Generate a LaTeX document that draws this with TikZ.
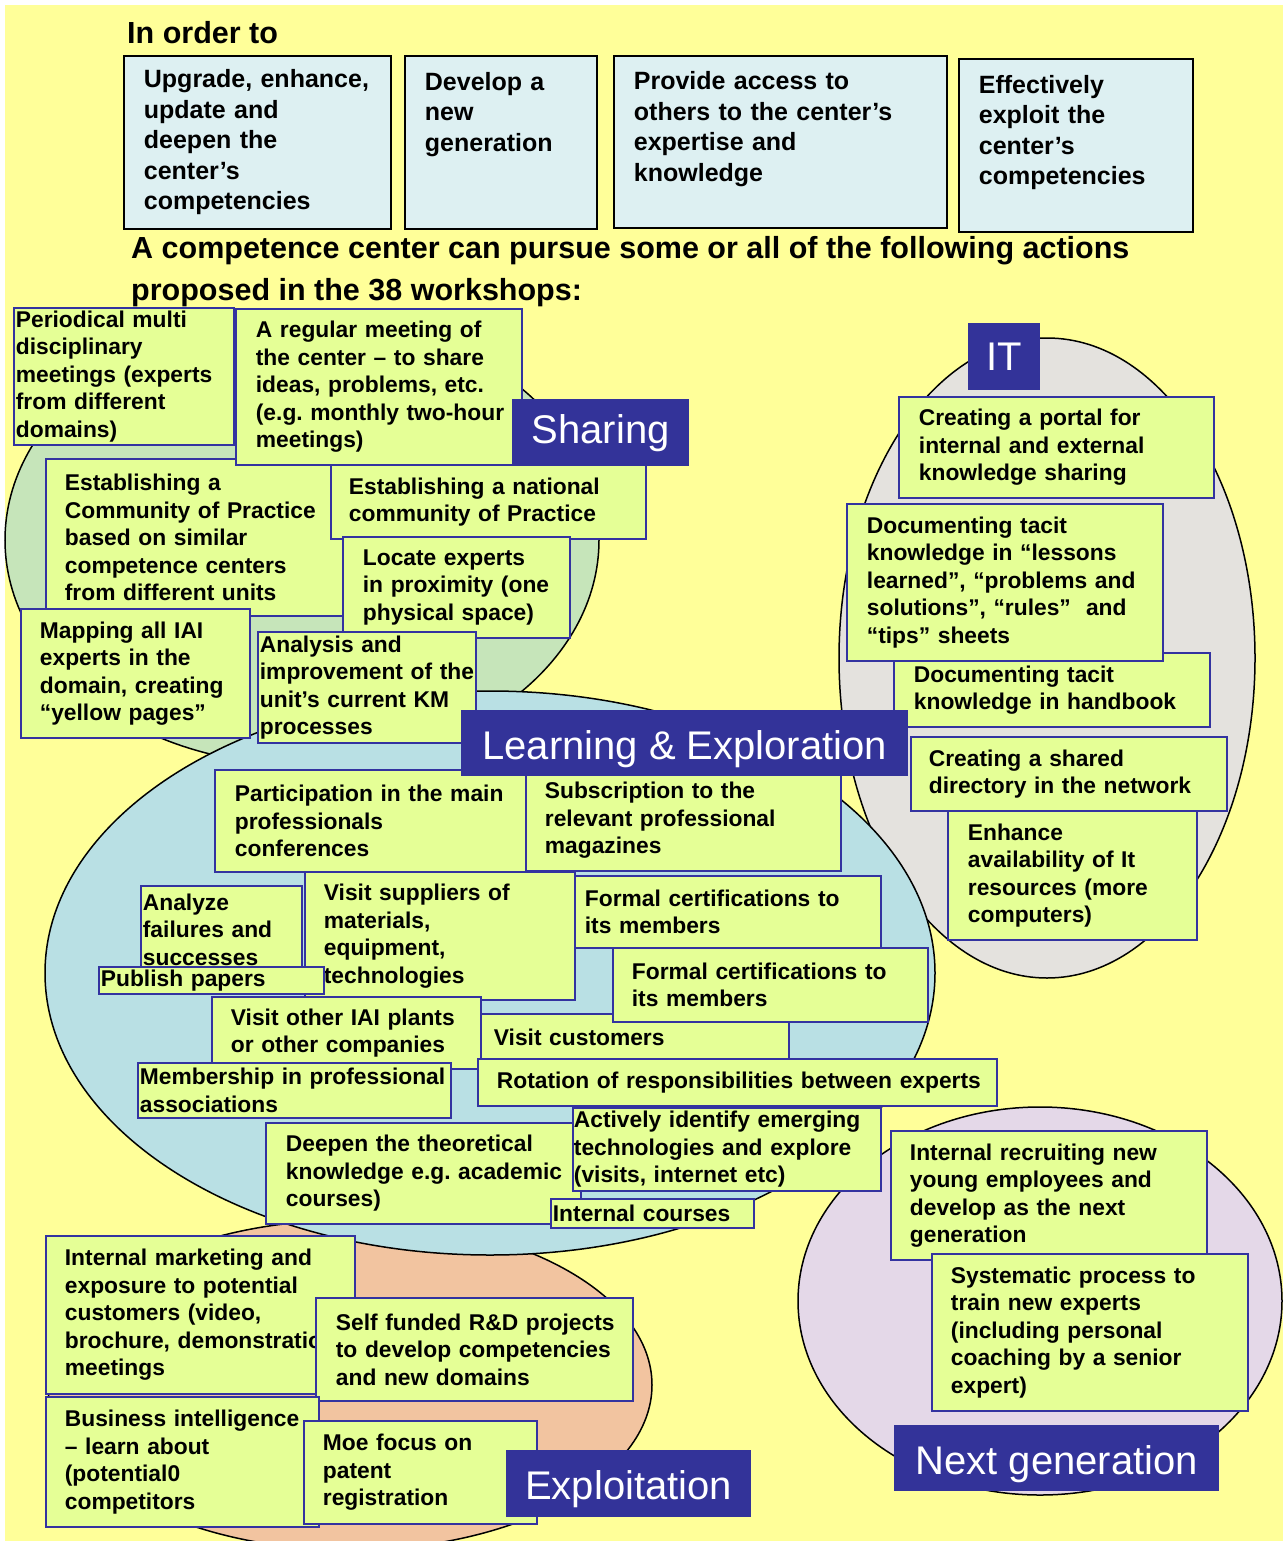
\documentclass[tikz,border=0pt]{standalone}
\usepackage{fontspec}
\setmainfont{Liberation Sans}
\frenchspacing
\definecolor{bgyellow}{RGB}{255,255,153}
\definecolor{actfill}{RGB}{229,255,150}
\definecolor{edgeblue}{RGB}{51,51,160}
\definecolor{tagblue}{RGB}{51,51,153}
\definecolor{goalfill}{RGB}{221,240,242}
\definecolor{sharegreen}{RGB}{198,229,186}
\definecolor{learnblue}{RGB}{185,224,228}
\definecolor{itgrey}{RGB}{228,226,222}
\definecolor{nextlilac}{RGB}{228,216,232}
\definecolor{exploitpeach}{RGB}{242,196,160}
\tikzset{
  zone/.style={draw=black, line width=1.5pt},
  heading/.style={anchor=base west, inner sep=0pt, align=left,
    font=\bfseries\fontsize{30.5}{42}\selectfont},
  actbox/.style={draw=edgeblue, fill=actfill, line width=1.8pt, anchor=north west,
    inner sep=0pt, align=left, font=\bfseries\fontsize{22.8}{27.5}\selectfont},
  goalbox/.style={draw=black, fill=goalfill, line width=1.8pt, anchor=north west,
    inner sep=0pt, align=left, font=\bfseries\fontsize{25}{30.5}\selectfont},
  zonetag/.style={fill=tagblue, text=white, anchor=north west, inner sep=0pt,
    font=\fontsize{40}{48}\selectfont},
  lowtag/.style={text height=34pt, text depth=2pt},
  lpad/.style={execute at begin node={\leftskip=#1pt\rightskip=-40pt plus 1fil}},
}
\begin{document}
\begin{tikzpicture}[x=1pt,y=-1pt]
    \useasboundingbox (0,0) rectangle (1283,1541);
    \fill[white] (0,0) rectangle (1283,1541);
    \fill[bgyellow] (5,5) rectangle (1283,1541);
    %% goals
    \node[heading] (inorder) at (127,44) {In order to};
    \node[goalbox, lpad=20, text width=267pt, minimum height=173pt] (goal1) at (123,55)
        {Upgrade, enhance,\\update and\\deepen the\\center’s\\competencies};
    \node[goalbox, lpad=20, text width=192pt, minimum height=173pt] (goal2) at (404,55)
        {Develop a\\new\\generation\\ \mbox{}\\ \mbox{}};
    \node[goalbox, lpad=20, text width=333pt, minimum height=172pt] (goal3) at (613,55)
        {Provide access to\\others to the center’s\\expertise and\\knowledge\\ \mbox{}};
    \node[goalbox, lpad=20, text width=234pt, minimum height=173pt] (goal4) at (958,58)
        {Effectively\\exploit the\\center’s\\competencies\\ \mbox{}};
    \node[heading] (pursue) at (131,300)
        {A competence center can pursue some or all of the following actions\\proposed in the 38 workshops:};
    %% zones
    \draw[zone, fill=sharegreen] (302,540) ellipse [x radius=297, y radius=225];
    \draw[zone, fill=itgrey] (1047,658) ellipse [x radius=208, y radius=320];
    \draw[zone, fill=nextlilac] (1040,1301) ellipse [x radius=242, y radius=194];
    \draw[zone, fill=exploitpeach] (350,1385) ellipse [x radius=302, y radius=165];
    \draw[zone, fill=learnblue] (490,973) ellipse [x radius=445, y radius=282];
    %% sharing
    \node[actbox, lpad=2, text width=220pt, minimum height=137pt] (share1) at (13,307)
        {Periodical multi\\disciplinary\\meetings (experts\\from different\\domains)};
    \node[actbox, lpad=19, text width=300pt, minimum height=157pt] (share3) at (45,458)
        {Establishing a\\Community of Practice\\based on similar\\competence centers\\from different units};
    \node[actbox, lpad=20, text width=286pt, minimum height=156pt] (share2) at (235,308)
        {A regular meeting of\\the center – to share\\ideas, problems, etc.\\(e.g. monthly two-hour\\meetings)};
    \node[actbox, lpad=18, text width=315pt, minimum height=74pt] (share4) at (330,464)
        {Establishing a national\\community of Practice};
    \node[actbox, lpad=20, text width=227pt, minimum height=101pt] (share5) at (342,536)
        {Locate experts\\in proximity (one\\physical space)};
    \node[actbox, lpad=19, text width=229pt, minimum height=129pt] (share6) at (20,608)
        {Mapping all IAI\\experts in the\\domain, creating\\“yellow pages”};
    \node[actbox, lpad=2, text width=218pt, minimum height=111pt] (share7) at (257,631)
        {Analysis and\\improvement of the\\unit’s current KM\\processes};
    %% IT
    \node[actbox, lpad=20, text width=315pt, minimum height=101pt] (it1) at (898,396)
        {Creating a portal for\\internal and external\\knowledge sharing};
    \node[actbox, lpad=20, text width=316pt, minimum height=74pt] (it3) at (893,652)
        {Documenting tacit\\knowledge in handbook};
    \node[actbox, lpad=20, text width=316pt, minimum height=157pt] (it2) at (846,503)
        {Documenting tacit\\knowledge in “lessons\\learned”, “problems and\\solutions”, “rules”~ and\\“tips” sheets};
    \node[actbox, lpad=18, text width=316pt, minimum height=74pt] (it4) at (910,736)
        {Creating a shared\\directory in the network};
    \node[actbox, lpad=20, text width=249pt, minimum height=129pt] (it5) at (947,810)
        {Enhance\\availability of It\\resources (more\\computers)};
    %% learning
    \node[actbox, lpad=20, text width=312pt, minimum height=102pt] (learn1) at (214,769)
        {Participation in the main\\professionals\\conferences};
    \node[actbox, lpad=19, text width=315pt, minimum height=101pt] (learn2) at (525,769)
        {Subscription to the\\relevant professional\\magazines};
    \node[actbox, lpad=2, text width=161pt, minimum height=87pt] (learn3) at (140,885)
        {Analyze\\failures and\\successes};
    \node[actbox, lpad=19, text width=270pt, minimum height=128pt] (learn4) at (304,871)
        {Visit suppliers of\\materials,\\equipment,\\technologies};
    \node[actbox, lpad=2, text width=225pt, minimum height=27pt] (learn5) at (98,966)
        {Publish papers};
    \node[actbox, lpad=19, text width=269pt, minimum height=72pt] (learn8) at (211,996)
        {Visit other IAI plants\\or other companies};
    \node[actbox, lpad=13, text width=308pt, minimum height=46pt] (learn9) at (480,1013)
        {Visit customers};
    \node[actbox, lpad=10, text width=306pt, minimum height=72pt] (learn6) at (574,875)
        {Formal certifications to\\its members};
    \node[actbox, lpad=19, text width=315pt, minimum height=74pt] (learn7) at (612,947)
        {Formal certifications to\\its members};
    \node[actbox, lpad=2, text width=313pt, minimum height=55pt] (learn10) at (137,1062)
        {Membership in professional\\associations};
    \node[actbox, lpad=19, text width=519pt, minimum height=47pt] (learn11) at (477,1058)
        {Rotation of responsibilities between experts};
    \node[actbox, lpad=20, text width=315pt, minimum height=101pt] (learn12) at (265,1122)
        {Deepen the theoretical\\knowledge e.g. academic\\courses)};
    \node[actbox, lpad=1, text width=308pt, minimum height=83pt] (learn13) at (572,1107)
        {Actively identify emerging\\technologies and explore\\(visits, internet etc)};
    \node[actbox, lpad=2, text width=203pt, minimum height=29pt] (learn14) at (550,1198)
        {Internal courses};
    %% next generation
    \node[actbox, lpad=19, text width=316pt, minimum height=129pt] (next1) at (890,1130)
        {Internal recruiting new\\young employees and\\develop as the next\\generation};
    \node[actbox, lpad=19, text width=316pt, minimum height=157pt] (next2) at (931,1253)
        {Systematic process to\\train new experts\\(including personal\\coaching by a senior\\expert)};
    %% exploitation
    \node[actbox, lpad=19, text width=309pt, minimum height=158pt] (exploit1) at (45,1235)
        {Internal marketing and\\exposure to potential\\customers (video,\\\mbox{brochure, demonstration,}\\meetings};
    \node[actbox, lpad=20, text width=317pt, minimum height=103pt] (exploit2) at (315,1297)
        {Self funded R\&D projects\\to develop competencies\\and new domains};
    \node[actbox, lpad=19, text width=273pt, minimum height=130pt] (exploit3) at (45,1396)
        {Business intelligence\\– learn about\\(potential0\\competitors};
    \node[actbox, lpad=19, text width=233pt, minimum height=103pt] (exploit4) at (303,1420)
        {Moe focus on\\patent\\registration};
    %% zone tags
    \node[zonetag, minimum width=177pt, minimum height=67pt] (sharetag) at (512,399) {Sharing};
    \node[zonetag, minimum width=72pt, minimum height=67pt] (ittag) at (968,323) {IT};
    \node[zonetag, lowtag, minimum width=447pt, minimum height=66pt] (learntag) at (461,710) {Learning \& Exploration};
    \node[zonetag, lowtag, minimum width=325pt, minimum height=66pt] (nexttag) at (894,1425) {Next generation};
    \node[zonetag, lowtag, minimum width=245pt, minimum height=67pt] (exploittag) at (506,1450) {Exploitation};
\end{tikzpicture}
\end{document}
